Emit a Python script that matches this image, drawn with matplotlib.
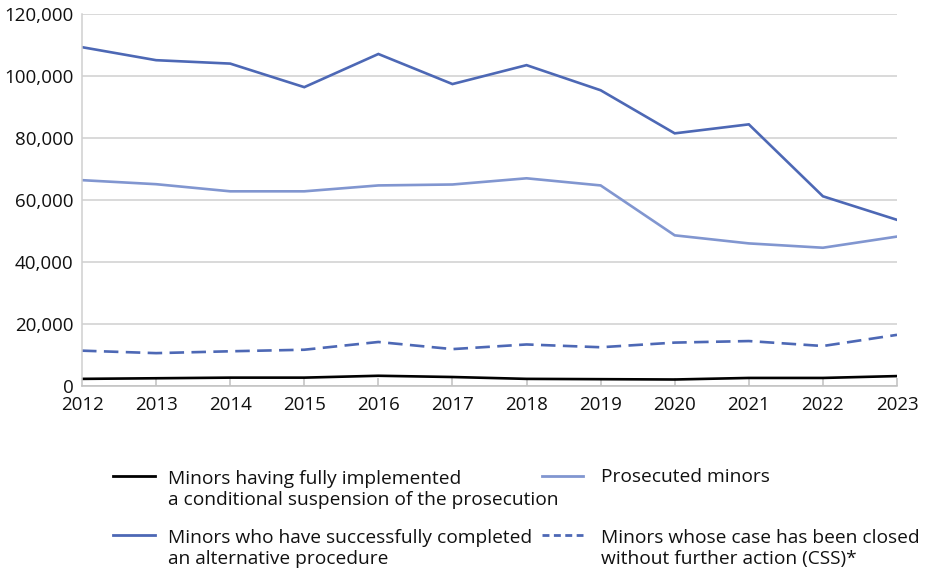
import matplotlib
matplotlib.use("Agg")
import matplotlib.pyplot as plt
from matplotlib.lines import Line2D
from matplotlib.ticker import FuncFormatter, MultipleLocator

years = [2012, 2013, 2014, 2015, 2016, 2017, 2018, 2019, 2020, 2021, 2022, 2023]
csp_minors = [2300, 2500, 2700, 2700, 3300, 2900, 2300, 2200, 2100, 2600, 2600, 3200]
alternative_minors = [109300, 105100, 104000, 96400, 107100, 97400, 103500, 95400, 81500, 84400, 61200, 53600]
prosecuted_minors = [66400, 65100, 62800, 62800, 64700, 65000, 67000, 64700, 48600, 46000, 44600, 48200]
css_minors = [11400, 10600, 11200, 11700, 14200, 11900, 13400, 12500, 14000, 14500, 12900, 16500]

labels = [
    "Minors having fully implemented\na conditional suspension of the prosecution",
    "Minors who have successfully completed\nan alternative procedure",
    "Prosecuted minors",
    "Minors whose case has been closed\nwithout further action (CSS)*",
]

DARK = "#4d68b5"
LIGHT = "#8196d0"
GRID = "#d0d0d0"

plt.rcParams['font.family'] = ['Open Sans', 'DejaVu Sans']

fig = plt.figure(figsize=(9.25, 5.73), dpi=100)
ax = fig.add_axes([82/925, 1-386/573, (897-82)/925, (386-14)/573])

lw = 1.9
ax.plot(years, prosecuted_minors, color=LIGHT, lw=lw, solid_joinstyle='miter')
ax.plot(years, alternative_minors, color=DARK, lw=lw, solid_joinstyle='miter')
ax.plot(years, css_minors, color=DARK, lw=lw, dashes=(5.5, 2.8))
ax.plot(years, csp_minors, color="black", lw=lw)

ax.set_xlim(years[0], years[-1])
ax.set_ylim(0, 120000)
ax.yaxis.set_major_locator(MultipleLocator(20000))
ax.yaxis.set_major_formatter(FuncFormatter(lambda v, p: f"{v:,.0f}"))
ax.set_xticks(years)
ax.grid(axis='y', color=GRID, lw=1.1)
ax.set_axisbelow(True)
for s in ['top', 'right']:
    ax.spines[s].set_visible(False)
ax.spines['left'].set_color(GRID)
ax.spines['bottom'].set_color("#c0c0c0")
ax.spines['left'].set_linewidth(1.1)
ax.spines['bottom'].set_linewidth(1.1)
ax.tick_params(axis='y', length=0, pad=6, labelsize=13.5, labelcolor='#111111')
ax.tick_params(axis='x', direction='in', length=6, color='#c0c0c0', width=1.1, pad=7, labelsize=13.5, labelcolor='#111111')

# legend (manual, two columns)
handles = [
    dict(color="black"),
    dict(color=DARK),
    dict(color=LIGHT),
    dict(color=DARK, dashes=(2.5, 1.6)),
]
# (handle x0, handle x1, text x, first-line baseline y) in pixels
positions = [(113, 155, 168, 482), (113, 155, 168, 541), (542, 583, 601, 482), (542, 583, 601, 541)]
W, H = 925, 573
LINE_PX = 23.3
for (x0, x1, xt, yb), h, lab in zip(positions, handles, labels):
    yh = yb - 6
    fig.add_artist(Line2D([x0/W, x1/W], [1-yh/H, 1-yh/H], lw=2.0, transform=fig.transFigure, **h))
    nlines = lab.count("\n") + 1
    y_last = yb + LINE_PX * (nlines - 1)
    fig.text(xt/W, 1-y_last/H, lab, ha='left', va='baseline', fontsize=13.8, color='#111111', linespacing=1.25)

fig.savefig("out.png", dpi=100)
